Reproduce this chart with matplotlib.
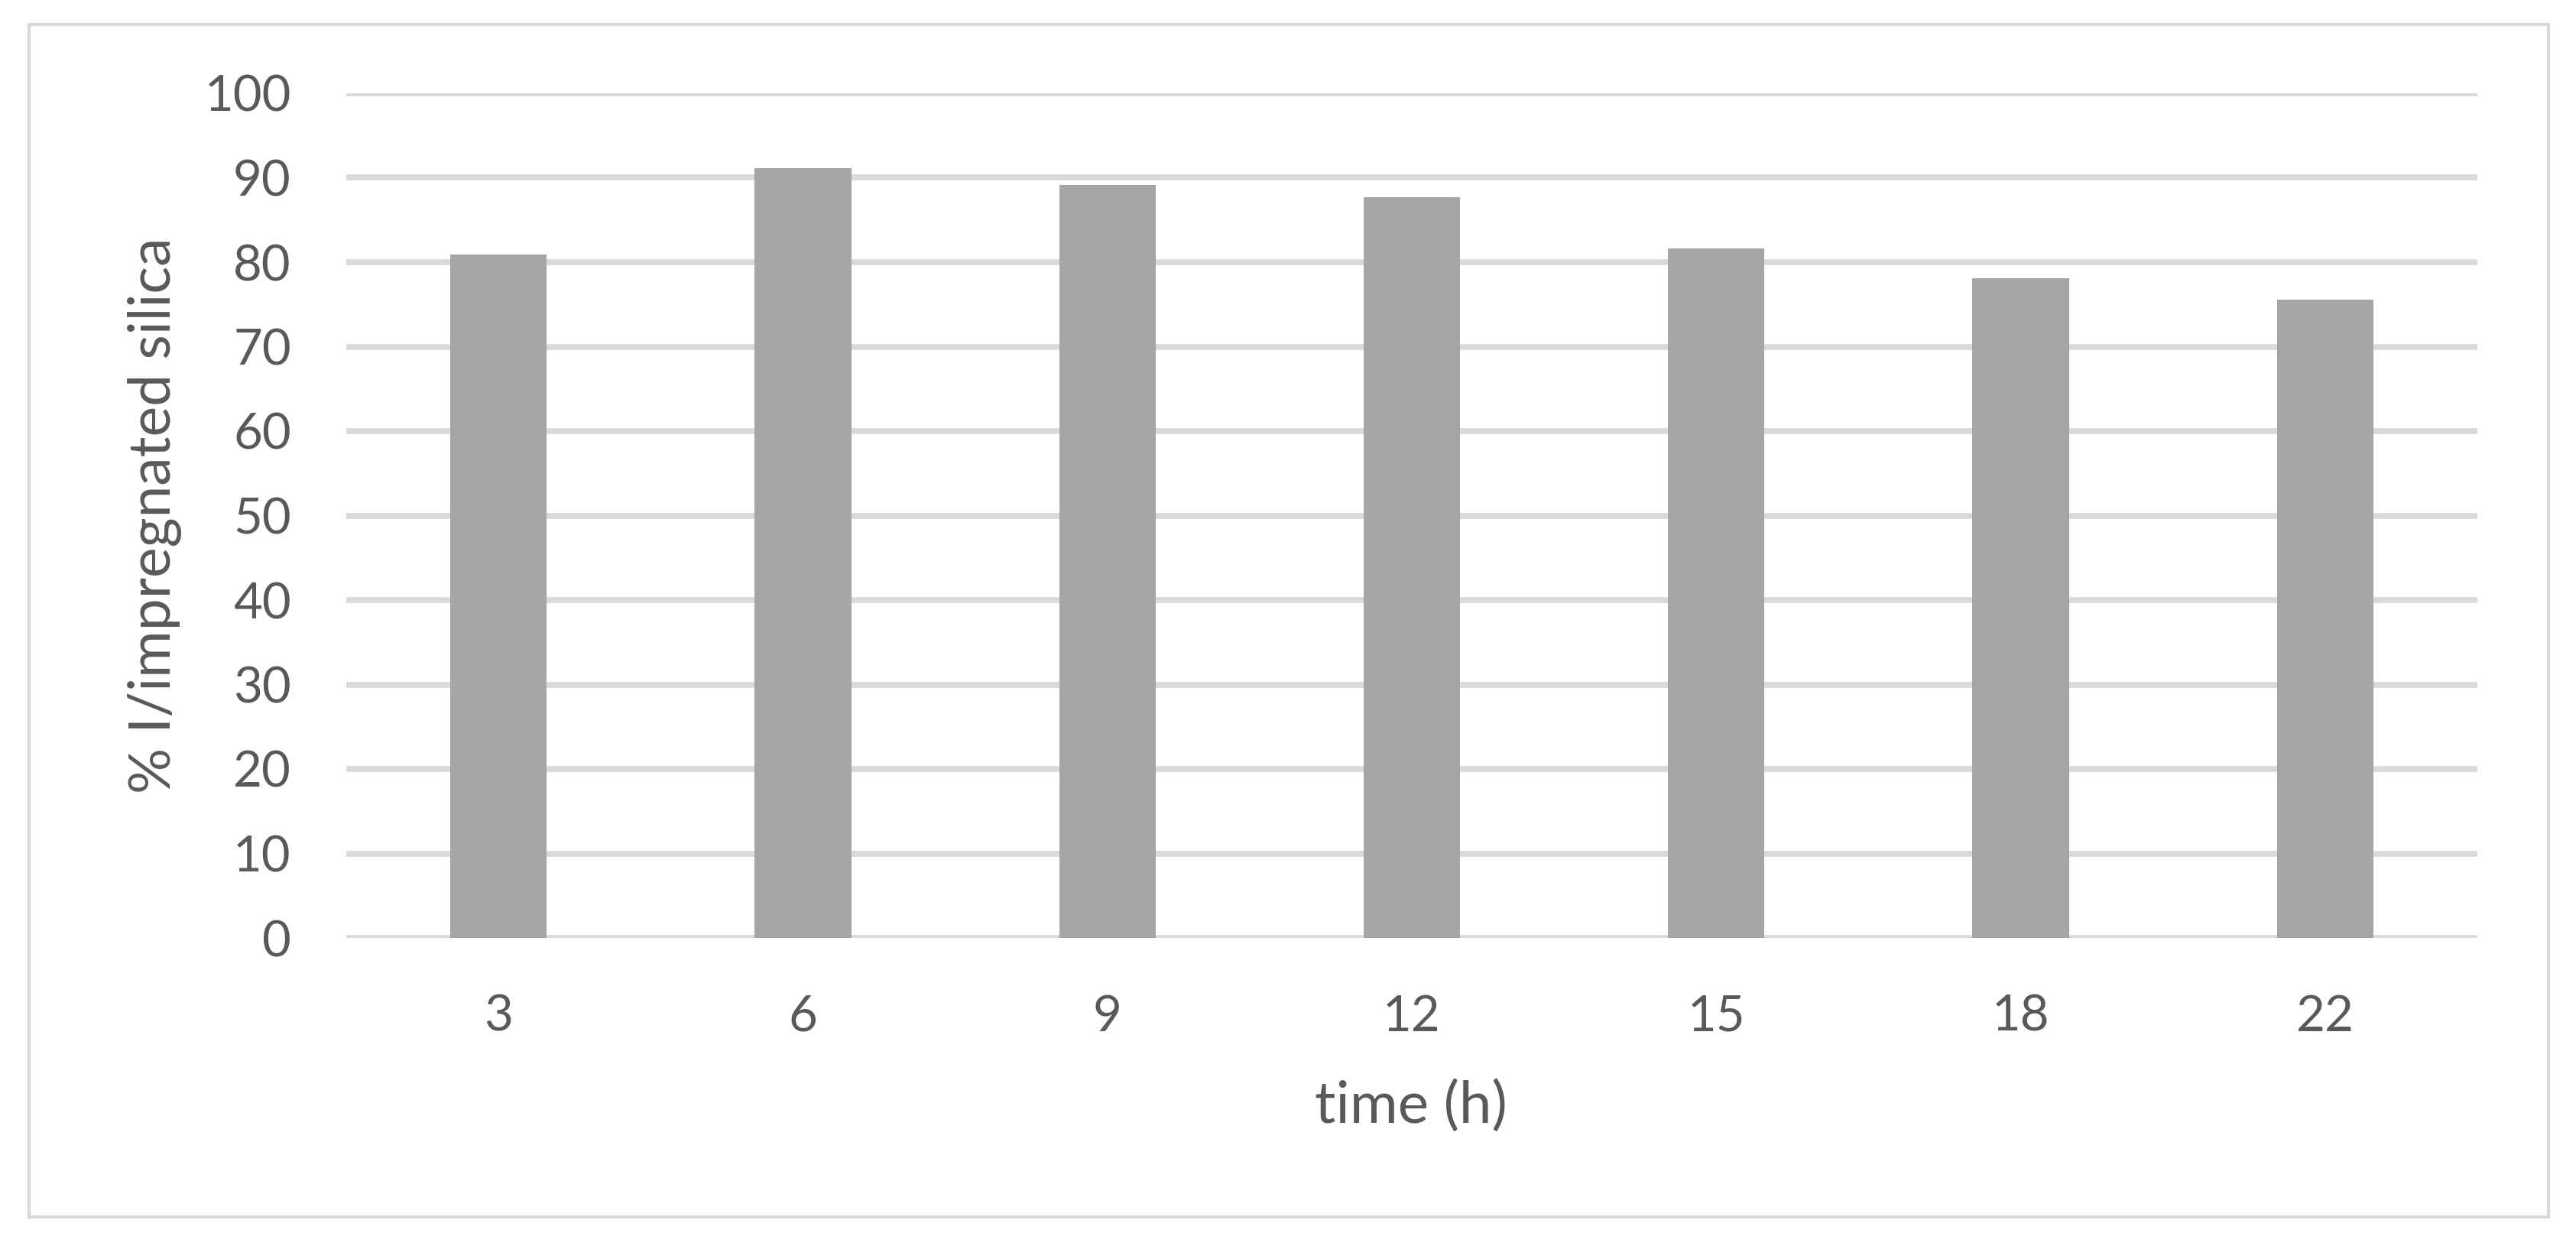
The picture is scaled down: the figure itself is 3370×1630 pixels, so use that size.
import matplotlib
matplotlib.use("Agg")
import matplotlib.pyplot as plt
from matplotlib.patches import Rectangle

categories = ["3", "6", "9", "12", "15", "18", "22"]
values = [80.9, 91.1, 89.1, 87.7, 81.6, 78.1, 75.6]
yticks = [0, 10, 20, 30, 40, 50, 60, 70, 80, 90, 100]

W, H = 3370, 1630
DPI = 100
plt.rcParams['font.family'] = ['Lato', 'DejaVu Sans']

fig = plt.figure(figsize=(W / DPI, H / DPI), dpi=DPI)
fig.patch.set_facecolor('white')

# outer border
fig.patches.append(Rectangle((38 / W, 1 - 1592 / H), (3334 - 38) / W, (1592 - 32) / H,
                             transform=fig.transFigure, fill=False,
                             edgecolor='#D9D9D9', linewidth=3, zorder=0))

left, right = 453 / W, 3241 / W
top, bottom = 1 - 122 / H, 1 - 1227 / H
ax = fig.add_axes([left, bottom, right - left, top - bottom])

x = list(range(len(categories)))
ax.bar(x, values, width=0.317, color='#A5A5A5', zorder=3)

ax.set_xlim(-0.5, len(categories) - 0.5)
ax.set_ylim(0, 100)
ax.set_yticks(yticks)
ax.set_xticks(x)
ax.set_xticklabels(categories)
ax.yaxis.grid(True, color='#D9D9D9', linewidth=5.5, zorder=0)
ax.set_axisbelow(True)
for s in ax.spines.values():
    s.set_visible(False)
ax.tick_params(axis='both', length=0, labelsize=47, labelcolor='#595959')
ax.tick_params(axis='y', pad=52)
ax.tick_params(axis='x', pad=53)

fig.text(1846 / W, 1 - 1447 / H, "time (h)", ha='center', va='center',
         fontsize=55, color='#595959')
fig.text(203 / W, 1 - 674 / H, "% I/impregnated silica", ha='center', va='center',
         rotation=90, fontsize=54, color='#595959')

fig.savefig("out.png", dpi=DPI)
